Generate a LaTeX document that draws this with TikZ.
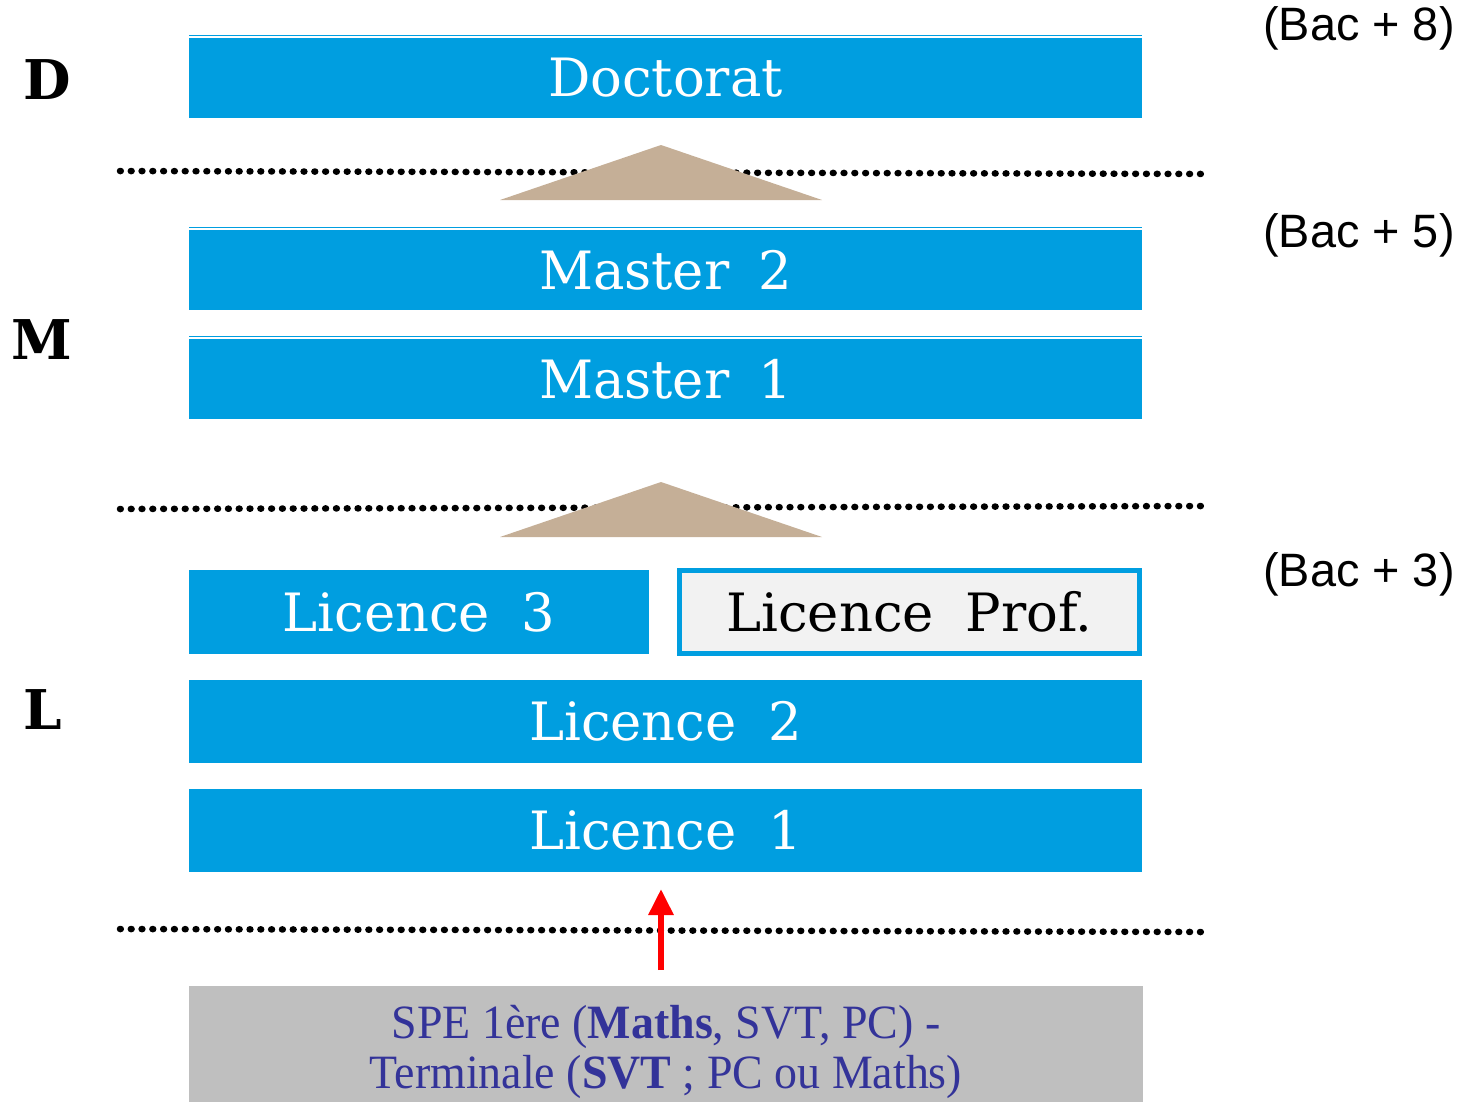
\documentclass[tikz,border=0pt]{standalone}
\usepackage{fontspec}
\usetikzlibrary{arrows.meta}
\newfontfamily\boxfont{DejaVu Serif}
\newfontfamily\bacfont{Liberation Sans}
\newfontfamily\spefont[FakeStretch=0.96]{Liberation Serif}
\definecolor{lmdblue}{RGB}{0,158,224}
\definecolor{lmdtan}{RGB}{197,175,151}
\definecolor{lmdgray}{RGB}{191,191,191}
\definecolor{lmdtext}{RGB}{51,51,153}
\definecolor{lmdlight}{RGB}{242,242,242}
\tikzset{
  bluebox/.style={fill=lmdblue, inner sep=0pt, outer sep=0pt, text=white,
    font={\boxfont\fontsize{53}{60}\selectfont}, minimum height=83bp},
  profbox/.style={fill=lmdlight, draw=lmdblue, line width=5bp, inner sep=0pt, outer sep=0pt,
    text=black, font={\boxfont\fontsize{53}{60}\selectfont}},
  toplinebox/.style={draw=lmdblue, line width=1.5bp},
  dotline/.style={line width=6.5bp, line cap=round, dash pattern=on 0.8bp off 10bp, black},
  levelchar/.style={font={\boxfont\bfseries\fontsize{55}{60}\selectfont}, inner sep=0pt},
  baclabel/.style={font={\bacfont\fontsize{47}{50}\selectfont}, inner sep=0pt},
  uptri/.style={fill=lmdtan, draw=none},
  redarrow/.style={draw=red, line width=6bp, -{Triangle[width=24bp,length=26bp]}},
  grayboxstyle/.style={fill=lmdgray, inner sep=0pt, outer sep=0pt},
  spetext/.style={text=lmdtext, inner sep=0pt, align=center,
    font={\spefont\fontsize{48}{51}\selectfont}}
}
\begin{document}
\begin{tikzpicture}[x=1bp,y=-1bp]
\useasboundingbox (0,0) rectangle (1461,1102);
% thin lines on top of some boxes
\draw[toplinebox] (189,35.5) -- (1142,35.5);
\draw[toplinebox] (189,227.5) -- (1142,227.5);
\draw[toplinebox] (189,336.5) -- (1142,336.5);
% boxes
\node[bluebox, minimum width=953bp, minimum height=80bp] (doc) at (665.5,78) {\raisebox{-2bp}{Doctorat}};
\node[bluebox, minimum width=953bp, minimum height=80bp] (m2) at (665.5,270) {Master\hspace{0.55em}2};
\node[bluebox, minimum width=953bp, minimum height=80bp] (m1) at (665.5,379) {Master\hspace{0.55em}1};
\node[bluebox, minimum width=460bp, minimum height=84bp] (l3) at (419,612) {Licence\hspace{0.6em}3};
\node[profbox, minimum width=460bp, minimum height=83bp] (lp) at (909.5,612) {Licence\hspace{0.6em}Prof.};
\node[bluebox, minimum width=953bp] (l2) at (665.5,721.5) {Licence\hspace{0.6em}2};
\node[bluebox, minimum width=953bp] (l1) at (665.5,830.5) {Licence\hspace{0.6em}1};
\node[grayboxstyle, minimum width=954bp, minimum height=116bp] (spe) at (666,1044) {};
\node[spetext] (spetxt) at (666,1052)
  {SPE 1ère (\textbf{Maths}, SVT, PC) -\\Terminale (\textbf{SVT} ; PC ou Maths)};
% level letters
\node[levelchar] (lvD) at (47,80) {D};
\node[levelchar] (lvM) at (42,340) {M};
\node[levelchar] (lvL) at (43,710) {L};
% bac labels
\node[baclabel] (bac8) at (1359,28) {(Bac + 8)};
\node[baclabel] (bac5) at (1359,235) {(Bac + 5)};
\node[baclabel] (bac3) at (1359,574) {(Bac + 3)};
% dotted lines
\coordinate (d1a) at (120,171); \coordinate (d1b) at (1210,174);
\coordinate (d2a) at (120,509); \coordinate (d2b) at (1208,506);
\coordinate (d3a) at (120,929); \coordinate (d3b) at (1206,932);
\draw[dotline] (d1a) -- (d1b);
\draw[dotline] (d2a) -- (d2b);
\draw[dotline] (d3a) -- (d3b);
% triangles
\fill[uptri] (500,200) -- (661,145) -- (822,200) -- cycle;
\fill[uptri] (500,537) -- (661,482) -- (822,537) -- cycle;
% red arrow
\coordinate (arrS) at (661,970);
\coordinate (arrE) at (661,889);
\draw[redarrow] (arrS) -- (arrE);
\end{tikzpicture}
\end{document}
